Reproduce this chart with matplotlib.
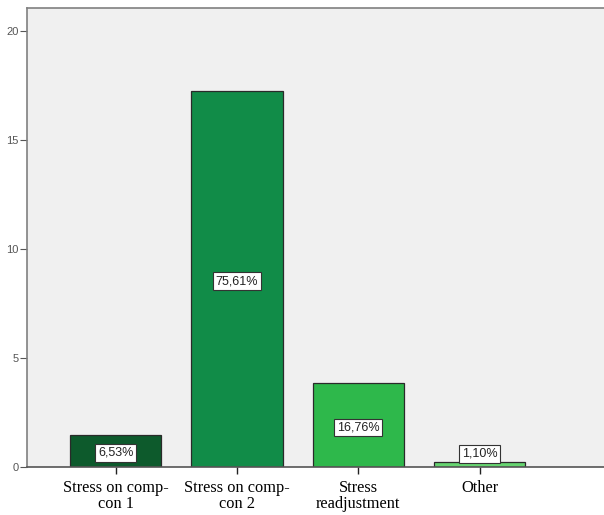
import matplotlib.pyplot as plt

categories = ["Stress on comp-\ncon 1", "Stress on comp-\ncon 2", "Stress\nreadjustment", "Other"]
values = [1.49, 17.26, 3.83, 0.25]
percent_labels = ["6,53%", "75,61%", "16,76%", "1,10%"]
bar_colors = ["#0D5A2C", "#118C48", "#2EB84B", "#66D470"]
y_ticks = [0, 5, 10, 15, 20]

fig = plt.figure(figsize=(6.04, 5.15), dpi=100)
# right edge of the axes runs past the picture, like the cropped original
ax = fig.add_axes([27 / 604, 48 / 515, 579 / 604, 459 / 515])
ax.set_facecolor("#F0F0F0")

x = range(len(values))
ax.bar(x, values, width=0.75, color=bar_colors, edgecolor="#2a2a2a", linewidth=0.9, zorder=2)

# percent boxes in the middle of the bars (above the bar when it is too thin)
for i, v in enumerate(values):
    y = v / 2 - 0.1 if v > 1 else 0.6
    ax.text(i, y, percent_labels[i], ha="center", va="center", fontsize=9,
            family="Liberation Sans", color="#222222", zorder=3,
            bbox=dict(boxstyle="square,pad=0.22", facecolor="white", edgecolor="#333333", linewidth=0.8))

ax.set_xlim(-0.73, 4.04)
ax.set_ylim(0, 21.05)
ax.set_yticks(y_ticks)
ax.set_yticklabels([str(t) for t in y_ticks], fontsize=8, family="Liberation Sans", color="#555555")
ax.set_xticks(list(x))
ax.set_xticklabels(categories, fontsize=11.8, family="Liberation Serif", linespacing=1.0)

ax.tick_params(axis="y", length=5, width=0.8, color="#555555", pad=1)
ax.tick_params(axis="x", length=5, width=1.0, color="#222222", pad=4)

for side in ["top", "left", "bottom"]:
    ax.spines[side].set_color("#808080")
    ax.spines[side].set_linewidth(1.2)
ax.spines["bottom"].set_color("#555555")
ax.spines["right"].set_visible(False)

fig.savefig("out.png", dpi=100)
